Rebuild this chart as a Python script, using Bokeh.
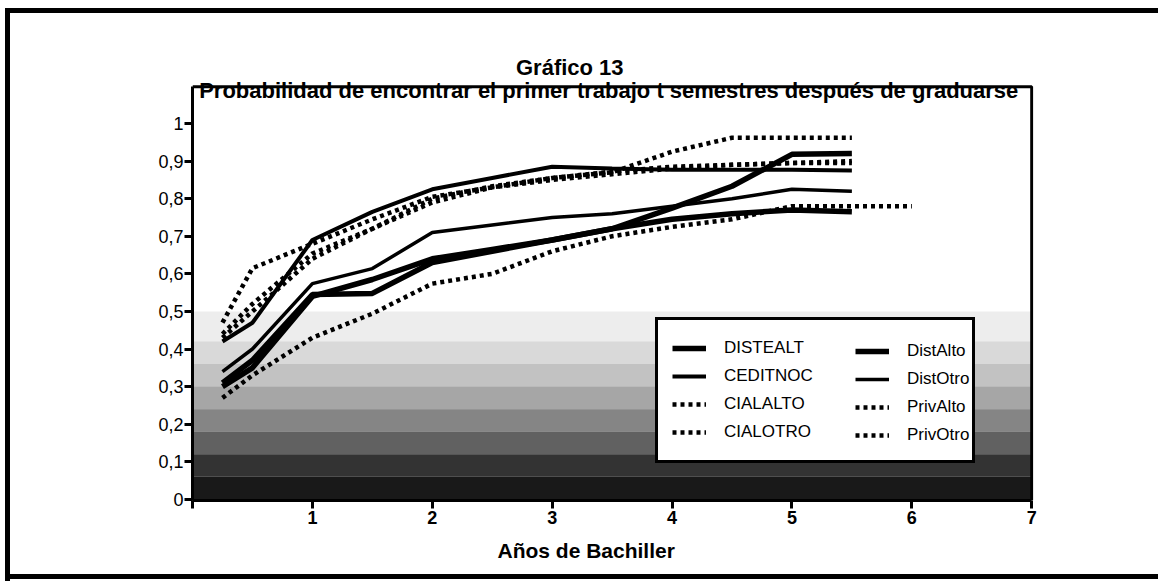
from bokeh.plotting import figure
from bokeh.models import Range1d, Legend, LegendItem, FixedTicker, Title
from bokeh.embed import file_html
from bokeh.resources import INLINE
from bokeh.core.properties import value

# ---- data ----
semesters = [0.25, 0.5, 1, 1.5, 2, 2.5, 3, 3.5, 4, 4.5, 5, 5.5]
semesters_long = [0.25, 0.5, 1, 1.5, 2, 2.5, 3, 3.5, 4, 4.5, 5, 5.5, 6]

distealt = [0.31, 0.37, 0.545, 0.548, 0.63, 0.66, 0.69, 0.72, 0.775, 0.833, 0.918, 0.92]
ceditnoc = [0.42, 0.47, 0.69, 0.765, 0.825, 0.855, 0.885, 0.88, 0.877, 0.877, 0.877, 0.875]
cialalto = [0.47, 0.615, 0.68, 0.745, 0.805, 0.83, 0.855, 0.87, 0.925, 0.962, 0.962, 0.962]
cialotro = [0.44, 0.52, 0.654, 0.72, 0.80, 0.833, 0.855, 0.872, 0.885, 0.89, 0.895, 0.90]
distalto = [0.30, 0.35, 0.54, 0.585, 0.64, 0.665, 0.69, 0.72, 0.745, 0.76, 0.77, 0.765]
distotro = [0.34, 0.40, 0.574, 0.614, 0.71, 0.73, 0.75, 0.76, 0.78, 0.80, 0.825, 0.82]
privalto = [0.43, 0.50, 0.64, 0.72, 0.79, 0.83, 0.85, 0.865, 0.88, 0.89, 0.895, 0.895]
privotro = [0.27, 0.33, 0.43, 0.494, 0.574, 0.60, 0.66, 0.70, 0.725, 0.745, 0.78, 0.78, 0.78]

y_ticks = [0, 0.1, 0.2, 0.3, 0.4, 0.5, 0.6, 0.7, 0.8, 0.9, 1]
y_tick_labels = ["0", "0,1", "0,2", "0,3", "0,4", "0,5", "0,6", "0,7", "0,8", "0,9", "1"]
x_ticks = [0, 1, 2, 3, 4, 5, 6, 7]
x_tick_labels = ["", "1", "2", "3", "4", "5", "6", "7"]

title_text = "Gráfico 13"
subtitle_text = "Probabilidad de encontrar el primer trabajo t semestres después de graduarse"
xlabel_text = "Años de Bachiller"

SANS = "Liberation Sans"

# ---- layout constants ----
X_END = 7.0
BOX_TOP = 1.098          # top edge of the drawn chart box
Y_START, Y_END = -0.003, 1.274

p = figure(width=1158, height=581, output_backend="svg", toolbar_location=None,
           x_range=Range1d(0, X_END + 0.015), y_range=Range1d(Y_START, Y_END),
           min_border_left=192, min_border_right=125, min_border_top=20,
           min_border_bottom=81)
p.styles = {"box-shadow": "inset 5px 8px 0 0 #fff, inset 10px 13px 0 0 #000, "
                          "inset 0 -2px 0 0 #fff, inset 0 -7px 0 0 #000"}
p.border_fill_alpha = 0
p.background_fill_alpha = 0
p.outline_line_color = None
p.grid.visible = False

# scan shading at the bottom of the chart box
shade_bottom = [0.0, 0.06, 0.12, 0.18, 0.24, 0.30, 0.36, 0.42]
shade_top = [0.06, 0.12, 0.18, 0.24, 0.30, 0.36, 0.42, 0.50]
shade_alpha = [0.9, 0.8, 0.62, 0.48, 0.35, 0.24, 0.15, 0.07]
for b, t, a in zip(shade_bottom, shade_top, shade_alpha):
    p.quad(left=0, right=X_END, bottom=b, top=t, fill_color="black", fill_alpha=a, line_alpha=0)

# top and right sides of the chart box
p.line([0, X_END, X_END], [BOX_TOP, BOX_TOP, Y_START], line_color="black", line_width=3)

for ax in (p.xaxis[0], p.yaxis[0]):
    ax.axis_line_width = 3
    ax.major_tick_line_width = 3
    ax.major_tick_out = 8
    ax.major_tick_in = 0
    ax.minor_tick_line_color = None

p.yaxis.bounds = (Y_START, BOX_TOP)
p.yaxis.ticker = FixedTicker(ticks=y_ticks)
p.yaxis.major_label_overrides = dict(zip(y_ticks, y_tick_labels))
p.yaxis.major_label_text_font = SANS
p.yaxis.major_label_text_font_size = "18px"
p.yaxis.major_label_text_color = "black"
p.yaxis.major_label_standoff = 1

p.xaxis.bounds = (0, X_END)
p.xaxis.ticker = FixedTicker(ticks=x_ticks)
p.xaxis.major_label_overrides = dict(zip(x_ticks, x_tick_labels))
p.xaxis.major_label_text_font = SANS
p.xaxis.major_label_text_font_style = "bold"
p.xaxis.major_label_text_font_size = "18px"
p.xaxis.major_label_text_color = "black"
p.xaxis.major_label_standoff = 2

thick = dict(line_color="black", line_width=5.5)
medium = dict(line_color="black", line_width=4)
dotted = dict(line_color="black", line_width=4.5, line_dash="4 4")

r_distealt = p.line(semesters, distealt, **thick)
r_ceditnoc = p.line(semesters, ceditnoc, **medium)
r_cialalto = p.line(semesters, cialalto, **dotted)
r_cialotro = p.line(semesters, cialotro, **dotted)
r_distalto = p.line(semesters, distalto, **thick)
r_distotro = p.line(semesters, distotro, line_color="black", line_width=3.5)
r_privalto = p.line(semesters, privalto, **dotted)
r_privotro = p.line(semesters_long, privotro, **dotted)

common = dict(label_text_font=SANS, label_text_font_size="17px", label_text_color="black",
              glyph_width=34, glyph_height=28, label_height=28, label_standoff=18,
              spacing=0, margin=0, padding=14)

leg_a = Legend(items=[LegendItem(label="DISTEALT", renderers=[r_distealt]),
                      LegendItem(label="CEDITNOC", renderers=[r_ceditnoc]),
                      LegendItem(label="CIALALTO", renderers=[r_cialalto]),
                      LegendItem(label="CIALOTRO", renderers=[r_cialotro])],
               location=(463, 37), label_width=234,
               border_line_color="black", border_line_width=3, border_line_alpha=1,
               background_fill_color="white", background_fill_alpha=1, **common)
leg_b = Legend(items=[LegendItem(label="DistAlto", renderers=[r_distalto]),
                      LegendItem(label="DistOtro", renderers=[r_distotro]),
                      LegendItem(label="PrivAlto", renderers=[r_privalto]),
                      LegendItem(label="PrivOtro", renderers=[r_privotro])],
               location=(649, 37), border_line_alpha=0, background_fill_alpha=0, **common)
p.add_layout(leg_a)
p.add_layout(leg_b)

# titles (inside the canvas, above the chart box)
p.text(x=[3.147], y=[1.148], text=[title_text], text_font=value(SANS), text_font_style="bold",
       text_font_size="22px", text_align="center", text_baseline="alphabetic", text_color="black")
p.text(x=[3.472], y=[1.087], text=[subtitle_text], text_font=value(SANS), text_font_style="bold",
       text_font_size="22px", text_align="center", text_baseline="alphabetic", text_color="black")

p.add_layout(Title(text=xlabel_text, align="left", offset=305, standoff=21,
                   text_font=SANS, text_font_style="bold", text_font_size="21px",
                   text_color="black"), "below")

open("out.html", "w").write(file_html(p, INLINE))
